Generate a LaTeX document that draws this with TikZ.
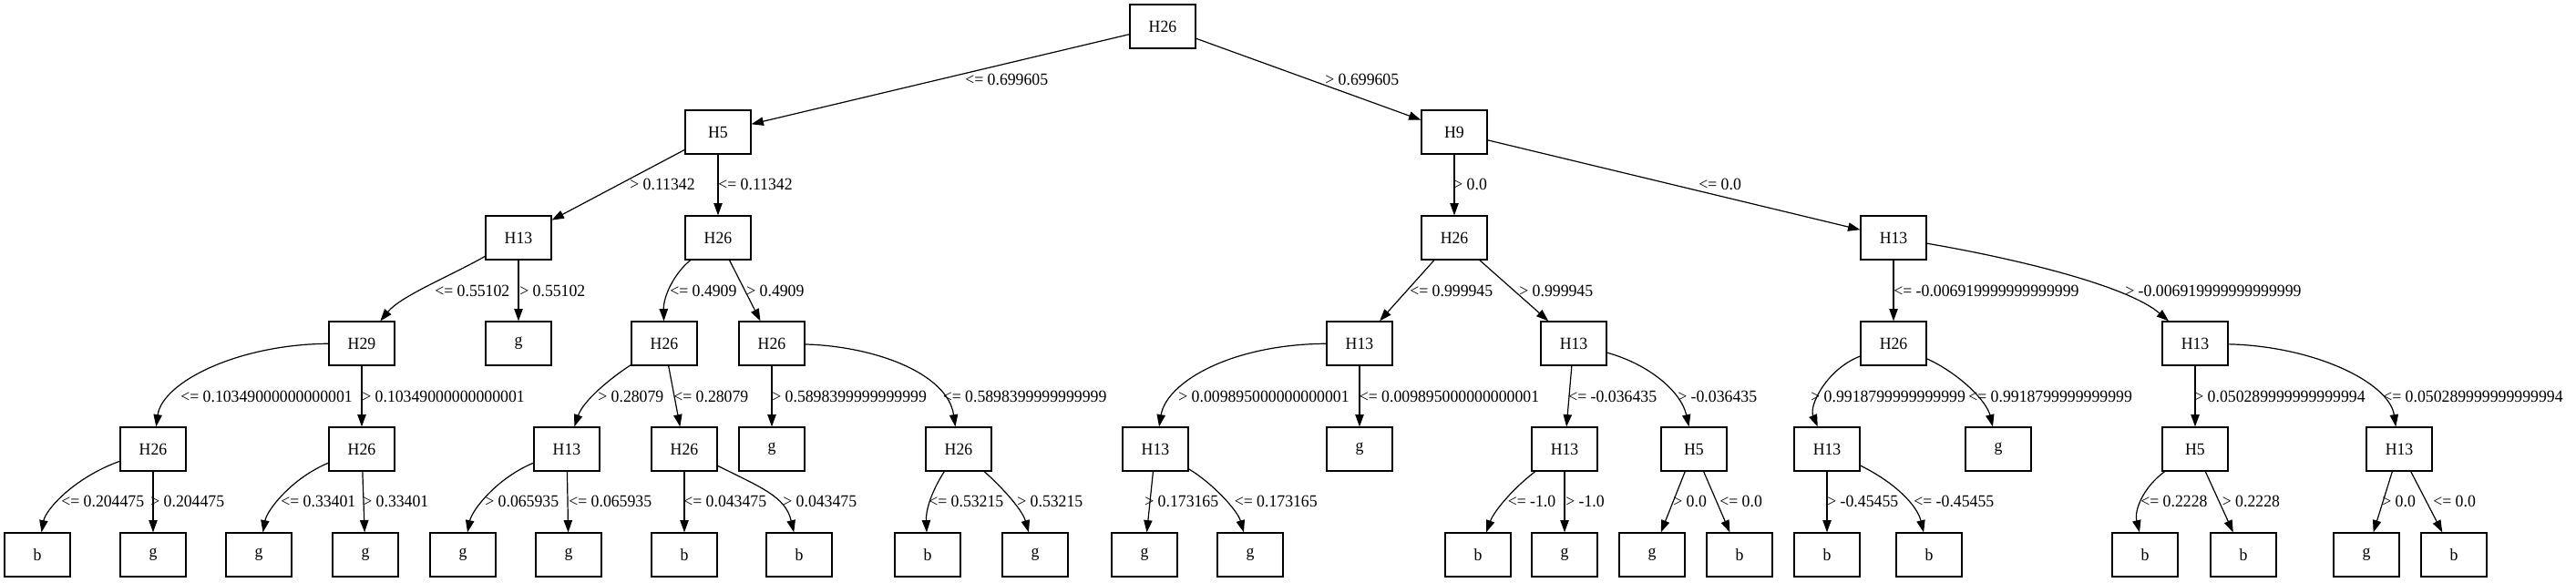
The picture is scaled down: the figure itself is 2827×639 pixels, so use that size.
\documentclass[tikz,border=0pt]{standalone}
\usepackage{fontspec}
\setmainfont[FakeStretch=0.95]{Liberation Serif}
\usetikzlibrary{arrows.meta}
\begin{document}
\begin{tikzpicture}[x=0.75pt,y=-0.75pt,
 box/.style={draw,line width=0.9pt,minimum width=54pt,minimum height=36pt,inner sep=0pt,font=\fontsize{14}{16}\selectfont},
 lab/.style={anchor=west,inner sep=0pt,font=\fontsize{14}{16}\selectfont},
 edge/.style={line width=0.9pt,-{Triangle[length=10pt,width=7pt]}}]
\useasboundingbox (0,0) rectangle (2827,639);
% level 0-1
\node[box] (n0) at (1276,29) {H26};
\node[box] (n1) at (788,145) {H5};
\node[box] (n2) at (1596,145) {H9};
% level 2
\node[box] (n3) at (569,261) {H13};
\node[box] (n4) at (788,261) {H26};
\node[box] (n5) at (1596,261) {H26};
\node[box] (n6) at (2078,261) {H13};
% level 3
\node[box] (n7) at (397,377) {H29};
\node[box] (n8) at (569,377) {g};
\node[box] (n9) at (729,377) {H26};
\node[box] (n10) at (847,377) {H26};
\node[box] (n11) at (1492,377) {H13};
\node[box] (n12) at (1727,377) {H13};
\node[box] (n13) at (2078,377) {H26};
\node[box] (n14) at (2409,377) {H13};
% level 4
\node[box] (n15) at (168,493) {H26};
\node[box] (n16) at (397,493) {H26};
\node[box] (n17) at (622,493) {H13};
\node[box] (n18) at (751,493) {H26};
\node[box] (n19) at (847,493) {g};
\node[box] (n20) at (1052,493) {H26};
\node[box] (n21) at (1268,493) {H13};
\node[box] (n22) at (1492,493) {g};
\node[box] (n23) at (1717,493) {H13};
\node[box] (n24) at (1859,493) {H5};
\node[box] (n25) at (2005,493) {H13};
\node[box] (n26) at (2193,493) {g};
\node[box] (n27) at (2409,493) {H5};
\node[box] (n28) at (2633,493) {H13};
% level 5
\node[box] (n29) at (41,609) {b};
\node[box] (n30) at (168,609) {g};
\node[box] (n31) at (284,609) {g};
\node[box] (n32) at (401,609) {g};
\node[box] (n33) at (508,609) {g};
\node[box] (n34) at (624,609) {g};
\node[box] (n35) at (751,609) {b};
\node[box] (n36) at (877,609) {b};
\node[box] (n37) at (1018,609) {b};
\node[box] (n38) at (1136,609) {g};
\node[box] (n39) at (1256,609) {g};
\node[box] (n40) at (1372,609) {g};
\node[box] (n41) at (1622,609) {b};
\node[box] (n42) at (1717,609) {g};
\node[box] (n43) at (1813,609) {g};
\node[box] (n44) at (1909,609) {b};
\node[box] (n45) at (2005,609) {b};
\node[box] (n46) at (2117,609) {b};
\node[box] (n47) at (2354,609) {b};
\node[box] (n48) at (2462,609) {b};
\node[box] (n49) at (2597,609) {g};
\node[box] (n50) at (2693,609) {b};

% straight edges
\foreach \a/\b in {n0/n1,n0/n2,n1/n3,n1/n4,n2/n5,n2/n6,n3/n8,n4/n10,n5/n11,n5/n12,n6/n13,
  n7/n16,n9/n18,n10/n19,n11/n22,n12/n23,n14/n27,n15/n30,n16/n32,n17/n34,n18/n35,
  n21/n39,n23/n42,n24/n43,n24/n44,n25/n45,n27/n48,n28/n49,n28/n50}
  \draw[edge] (\a) -- (\b);

% curved edges
\draw[edge] (n3) .. controls (490,305) and (440,325) .. (n7);
\draw[edge] (n4) .. controls (740,300) and (728,325) .. (n9);
\draw[edge] (n6) .. controls (2190,280) and (2330,310) .. (n14);
\draw[edge] (n7) .. controls (260,378) and (178,420) .. (n15);
\draw[edge] (n9) .. controls (670,415) and (640,440) .. (n17);
\draw[edge] (n10) .. controls (960,380) and (1040,410) .. (n20);
\draw[edge] (n11) .. controls (1350,378) and (1280,420) .. (n21);
\draw[edge] (n12) .. controls (1810,400) and (1845,430) .. (n24);
\draw[edge] (n13) .. controls (2005,405) and (1985,445) .. (n25);
\draw[edge] (n13) .. controls (2150,410) and (2180,440) .. (n26);
\draw[edge] (n14) .. controls (2540,380) and (2622,420) .. (n28);
\draw[edge] (n15) .. controls (80,525) and (50,560) .. (n29);
\draw[edge] (n16) .. controls (320,525) and (293,560) .. (n31);
\draw[edge] (n17) .. controls (545,525) and (518,560) .. (n33);
\draw[edge] (n18) .. controls (835,535) and (862,545) .. (n36);
\draw[edge] (n20) .. controls (1022,540) and (1016,560) .. (n37);
\draw[edge] (n20) .. controls (1100,535) and (1122,560) .. (n38);
\draw[edge] (n21) .. controls (1330,530) and (1358,560) .. (n40);
\draw[edge] (n23) .. controls (1662,535) and (1640,560) .. (n41);
\draw[edge] (n25) .. controls (2080,530) and (2104,555) .. (n46);
\draw[edge] (n27) .. controls (2352,535) and (2342,560) .. (n47);

% labels
\node[lab] (l1) at (1059,87) {<= 0.699605};
\node[lab] (l2) at (1454,87) {> 0.699605};
\node[lab] (l3) at (691,202) {> 0.11342};
\node[lab] (l4) at (788,202) {<= 0.11342};
\node[lab] (l5) at (1595,202) {> 0.0};
\node[lab] (l6) at (1864,202) {<= 0.0};
\node[lab] (l7) at (477,319) {<= 0.55102};
\node[lab] (l8) at (570,319) {> 0.55102};
\node[lab] (l9) at (735,319) {<= 0.4909};
\node[lab] (l10) at (819,319) {> 0.4909};
\node[lab] (l11) at (1547,319) {<= 0.999945};
\node[lab] (l12) at (1667,319) {> 0.999945};
\node[lab] (l13) at (2078,319) {<= -0.006919999999999999};
\node[lab] (l14) at (2332,319) {> -0.006919999999999999};
\node[lab] (l15) at (198,435) {<= 0.10349000000000001};
\node[lab] (l16) at (397,435) {> 0.10349000000000001};
\node[lab] (l17) at (656,435) {> 0.28079};
\node[lab] (l18) at (739,435) {<= 0.28079};
\node[lab] (l19) at (847,435) {> 0.5898399999999999};
\node[lab] (l20) at (1034.5,435) {<= 0.5898399999999999};
\node[lab] (l21) at (1293,435) {> 0.009895000000000001};
\node[lab] (l22) at (1491.5,435) {<= 0.009895000000000001};
\node[lab] (l23) at (1721,435) {<= -0.036435};
\node[lab] (l24) at (1841,435) {> -0.036435};
\node[lab] (l25) at (1987,435) {> 0.9918799999999999};
\node[lab] (l26) at (2160,435) {<= 0.9918799999999999};
\node[lab] (l27) at (2408,435) {> 0.050289999999999994};
\node[lab] (l28) at (2615,435) {<= 0.050289999999999994};
\node[lab] (l29) at (67,550) {<= 0.204475};
\node[lab] (l30) at (165,550) {> 0.204475};
\node[lab] (l31) at (308,550) {<= 0.33401};
\node[lab] (l32) at (398,550) {> 0.33401};
\node[lab] (l33) at (532,550) {> 0.065935};
\node[lab] (l34) at (624,550) {<= 0.065935};
\node[lab] (l35) at (750,550) {<= 0.043475};
\node[lab] (l36) at (859,550) {> 0.043475};
\node[lab] (l37) at (1019,550) {<= 0.53215};
\node[lab] (l38) at (1116,550) {> 0.53215};
\node[lab] (l39) at (1256,550) {> 0.173165};
\node[lab] (l40) at (1354.5,550) {<= 0.173165};
\node[lab] (l41) at (1654.5,550) {<= -1.0};
\node[lab] (l42) at (1718,550) {> -1.0};
\node[lab] (l43) at (1836,550) {> 0.0};
\node[lab] (l44) at (1887,550) {<= 0.0};
\node[lab] (l45) at (2005,550) {> -0.45455};
\node[lab] (l46) at (2100,550) {<= -0.45455};
\node[lab] (l47) at (2349,550) {<= 0.2228};
\node[lab] (l48) at (2438.5,550) {> 0.2228};
\node[lab] (l49) at (2614,550) {> 0.0};
\node[lab] (l50) at (2670,550) {<= 0.0};
\end{tikzpicture}
\end{document}
